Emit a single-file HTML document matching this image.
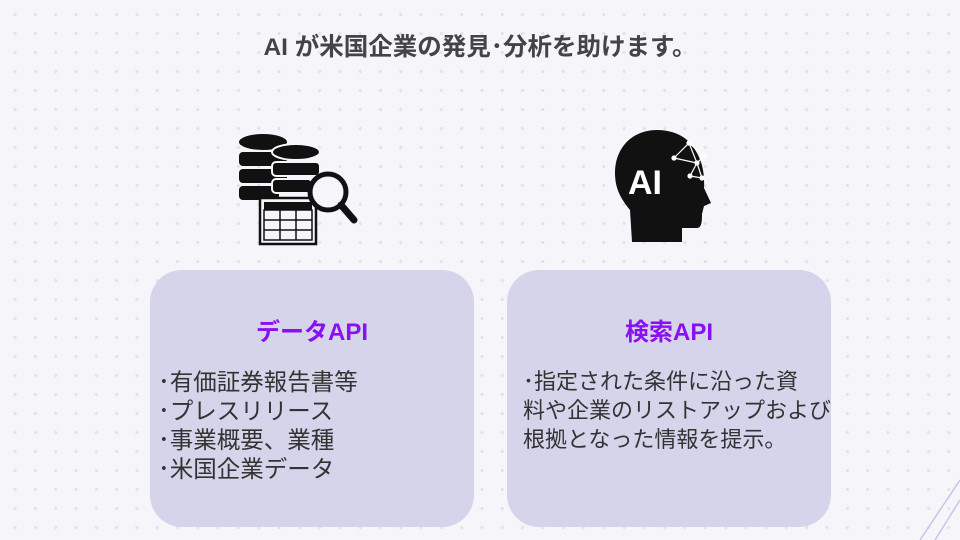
<!DOCTYPE html>
<html><head><meta charset="utf-8"><style>
body{margin:0;width:960px;height:540px;overflow:hidden;position:relative;background:#f5f5fa;font-family:"Liberation Sans","Noto Sans CJK JP",sans-serif;
background-image:radial-gradient(circle,#e2e2ee 1.4px,transparent 1.8px);background-size:20.3px 19px;background-position:5px 5px;}
.t{position:absolute;left:0;width:960px;top:28px;text-align:center;font-size:24.5px;font-weight:bold;color:#444;}
.box{position:absolute;top:270px;height:257px;width:324px;background:#d5d4eb;border-radius:32px;}
.h{position:absolute;width:100%;text-align:center;top:42px;font-size:24px;font-weight:bold;color:#8a10f0;}
.l{position:absolute;font-size:22px;color:#333;line-height:29px;white-space:nowrap;}
</style></head><body>
<div class="t">AI が米国企業の発見･分析を助けます。</div>
<svg style="position:absolute;left:236px;top:130px" width="125" height="118" viewBox="0 0 125 118">
<g fill="#111">
<ellipse cx="27" cy="12" rx="24" ry="8"/><rect x="3" y="22" width="48" height="14" rx="4"/><rect x="3" y="39" width="48" height="14" rx="4"/><rect x="3" y="56" width="40" height="14" rx="4"/>
<ellipse cx="60" cy="22" rx="24" ry="8" stroke="#f5f5fa" stroke-width="2"/><rect x="36" y="32" width="48" height="14" rx="4" stroke="#f5f5fa" stroke-width="2"/><rect x="36" y="49" width="40" height="14" rx="4" stroke="#f5f5fa" stroke-width="2"/>
</g>
<rect x="24" y="68" width="56" height="46" fill="#f5f5fa" stroke="#111" stroke-width="2.5"/>
<rect x="28" y="72" width="48" height="8" fill="#111"/>
<g stroke="#111" stroke-width="1.5" fill="none"><path d="M28 80H76V110H28Z M28 90H76 M28 100H76 M44 80V110 M60 80V110"/></g>
<circle cx="92" cy="62" r="18" fill="#f5f5fa" stroke="#111" stroke-width="5"/>
<line x1="105" y1="75" x2="118" y2="90" stroke="#111" stroke-width="7" stroke-linecap="round"/>
</svg>
<svg style="position:absolute;left:612px;top:128px" width="105" height="115" viewBox="0 0 105 115">
<path d="M45 2C20 2 3 20 3 45C3 62 10 72 18 82L20 114H70V100H85C90 100 90 92 90 86L92 78L99 75L92 60C93 40 88 25 75 12C67 5 56 2 45 2Z" fill="#111"/>
<text x="16" y="66" font-family="Liberation Sans" font-weight="bold" font-size="34" fill="#fff">AI</text>
<g stroke="#fff" stroke-width="1.2" fill="#fff"><path d="M62 30L77 15L92 28L85 35L78 48L90 50L85 35 M77 15L85 35L62 30" fill="none"/>
<circle cx="62" cy="30" r="2"/><circle cx="77" cy="15" r="2"/><circle cx="92" cy="28" r="2"/><circle cx="85" cy="35" r="2"/><circle cx="78" cy="48" r="2"/><circle cx="90" cy="50" r="2"/></g>
</svg>
<div class="box" style="left:150px"><div class="h">データAPI</div>
<div class="l" style="left:8px;top:98px;font-size:23.5px">･有価証券報告書等<br>･プレスリリース<br>･事業概要、業種<br>･米国企業データ</div></div>
<div class="box" style="left:507px"><div class="h">検索API</div>
<div class="l" style="left:16px;top:97px">･指定された条件に沿った資<br>料や企業のリストアップおよび<br>根拠となった情報を提示。</div></div>
<svg style="position:absolute;left:900px;top:470px" width="60" height="70"><path d="M60 10L20 70 M60 30L35 70" stroke="#c9c3e8" stroke-width="1.5" fill="none"/></svg>
</body></html>
